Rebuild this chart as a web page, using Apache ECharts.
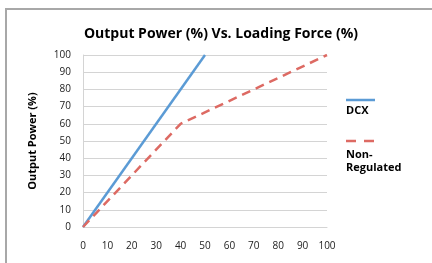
<!DOCTYPE html>
<html>
<head>
<meta charset="utf-8">
<script src="https://cdn.jsdelivr.net/npm/echarts@6/dist/echarts.min.js"></script>
<style>
  html, body { margin: 0; padding: 0; background: #fff; }
  #main { width: 432px; height: 263px; }
</style>
</head>
<body>
<div id="main"></div>
<script>
// values (x = loading force %, y = output power %)
const dcxData = [[0, 0], [50, 100]];
const nonRegData = [[0, 0], [40, 60], [100, 100]];
const seriesNames = ["DCX", "Non-\nRegulated"];
const colors = ["#5b9bd5", "#dd6a63"];

const font = "'Open Sans', 'Liberation Sans', sans-serif";

var chart = echarts.init(document.getElementById("main"));

chart.setOption({
  animation: false,
  title: {
    text: "Output Power (%) Vs. Loading Force (%)",
    left: 216,
    textAlign: "center",
    top: 22,
    textStyle: { fontFamily: font, fontSize: 14, fontWeight: "bold", color: "#000" }
  },
  grid: { left: 83, right: 105, top: 55, bottom: 36 },
  xAxis: {
    type: "value",
    min: 0, max: 100, interval: 10,
    axisLine: { show: true, lineStyle: { color: "#d4d4d4" } },
    axisTick: { show: false },
    splitLine: { show: false },
    axisLabel: { margin: 14, fontFamily: font, fontSize: 10, color: "#222" }
  },
  yAxis: {
    type: "value",
    min: 0, max: 100, interval: 10,
    name: "Output Power (%)",
    nameLocation: "middle",
    nameGap: 45,
    nameTextStyle: { fontFamily: font, fontSize: 11, fontWeight: "bold", color: "#000" },
    axisLine: { show: true, lineStyle: { color: "#d4d4d4" } },
    axisTick: { show: false },
    splitLine: { lineStyle: { color: "#d4d4d4" } },
    axisLabel: { margin: 12, fontFamily: font, fontSize: 10, color: "#222" }
  },
  series: [
    {
      name: seriesNames[0], type: "line", data: dcxData, symbol: "none",
      lineStyle: { color: colors[0], width: 2.5 }
    },
    {
      name: seriesNames[1], type: "line", data: nonRegData, symbol: "none",
      lineStyle: { color: colors[1], width: 2.5, type: [9, 6] }
    }
  ],
  graphic: [
    // outer frame
    { type: "rect", shape: { x: 6, y: 9, width: 440, height: 270 },
      style: { fill: "none", stroke: "#a8a8a8", lineWidth: 2 } },
    // legend, icon above text
    { type: "line", shape: { x1: 346, y1: 100, x2: 375, y2: 100 },
      style: { stroke: colors[0], lineWidth: 2.5 } },
    { type: "text", left: 346, top: 105,
      style: { text: seriesNames[0], font: "bold 11px " + font, fill: "#000" } },
    { type: "line", shape: { x1: 346, y1: 141, x2: 375, y2: 141 },
      style: { stroke: colors[1], lineWidth: 2.5, lineDash: [10, 8] } },
    { type: "text", left: 346, top: 148,
      style: { text: seriesNames[1], font: "bold 11px " + font, fill: "#000", lineHeight: 13 } }
  ]
});
</script>
</body>
</html>
